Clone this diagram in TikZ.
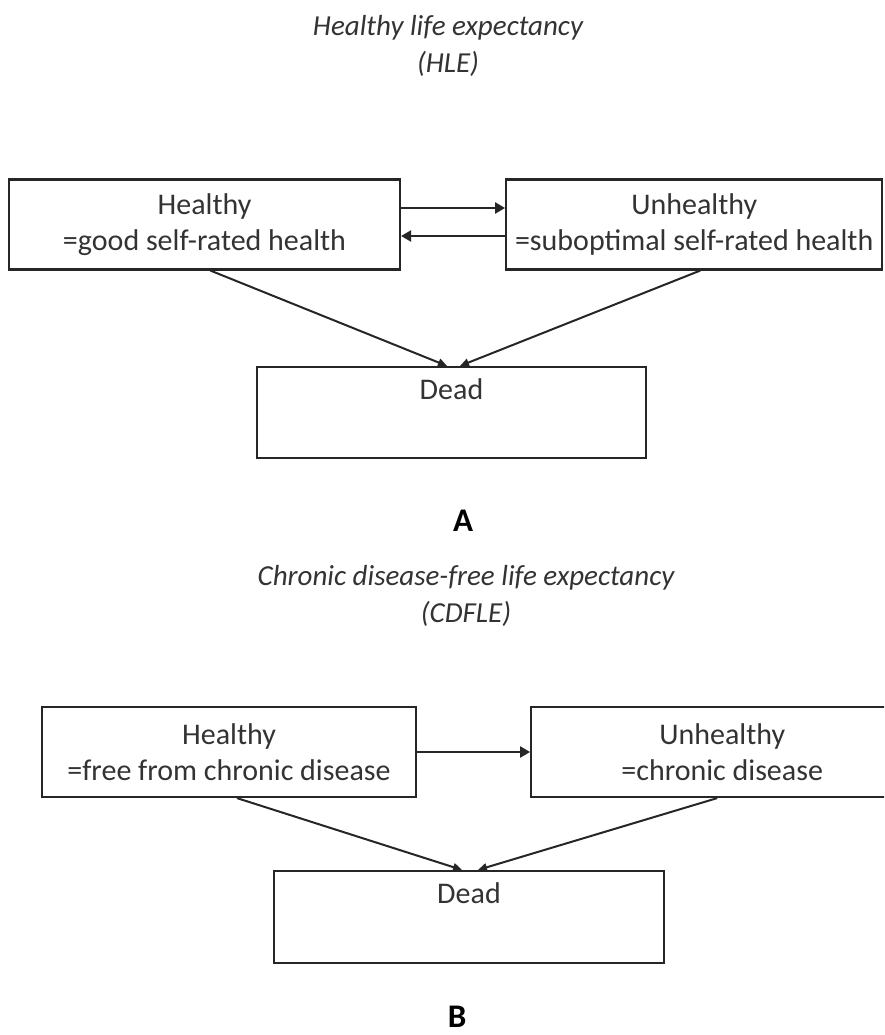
\documentclass[tikz,border=0pt]{standalone}
\usepackage{fontspec}
\setmainfont{Carlito}
\usetikzlibrary{positioning,calc,arrows.meta}
\tikzset{
	stbox/.style={draw=black!85, line width=2.2pt, minimum height=90pt, align=center, inner sep=0pt},
	heading/.style={font=\fontsize{29}{37}\selectfont\itshape, align=center},
	panel/.style={font=\fontsize{33}{36}\selectfont\bfseries, text=black, inner sep=0pt},
	trans/.style={draw=black!85, line width=2.2pt, -{Triangle[length=10pt,width=11pt]}},
	todead/.style={draw=black!85, line width=2pt, -{Triangle[length=9pt,width=8pt]}}
}

\begin{document}
\begin{tikzpicture}[x=1pt, y=-1pt, font=\fontsize{30}{36}\selectfont, text=black!80]
	\clip (0,0) rectangle (884,1035);

	\node[heading] (hle) at (448,46) {Healthy life expectancy\\(HLE)};
	\node[stbox, minimum width=391pt] (h1) at (204.5,224.5) {Healthy\\=good self-rated health};
	\node[stbox, minimum width=376pt, right=104pt of h1] (u1) {Unhealthy\\=suboptimal self-rated health};
	\node[stbox, minimum width=389pt, minimum height=91pt] (dead1) at (451.5,412.5) {};
	\node[anchor=base] (dead1txt) at ($(dead1.north)+(0,34)$) {Dead};
	\node[panel] (pa) at (463,521) {A};

	\node[heading] (cdfle) at (466,596) {Chronic disease-free life expectancy\\(CDFLE)};
	\node[stbox, minimum width=374pt] (h2) at (229,752) {Healthy\\=free from chronic disease};
	\node[stbox, minimum width=382pt, right=113pt of h2] (u2) {Unhealthy\\=chronic disease};
	\node[stbox, minimum width=390pt, minimum height=92pt] (dead2) at (469,917) {};
	\node[anchor=base] (dead2txt) at ($(dead2.north)+(0,33.5)$) {Dead};
	\node[panel] (pb) at (457,1017) {B};

	\draw[trans] ($(h1.east)+(0,-16.5)$) -- ($(u1.west)+(0,-16.5)$);
	\draw[trans] ($(u1.west)+(0,11.5)$) -- ($(h1.east)+(0,11.5)$);
	\draw[todead] ($(h1.south)+(6,0)$) -- ($(dead1.north)+(-4.5,0)$);
	\draw[todead] ($(u1.south)+(6,0)$) -- ($(dead1.north)+(8.5,0)$);

	\draw[trans] (h2.east) -- (u2.west);
	\draw[todead] ($(h2.south)+(8,0)$) -- ($(dead2.north)+(-7,0)$);
	\draw[todead] ($(u2.south)+(-5,0)$) -- ($(dead2.north)+(9,0)$);
\end{tikzpicture}
\end{document}
